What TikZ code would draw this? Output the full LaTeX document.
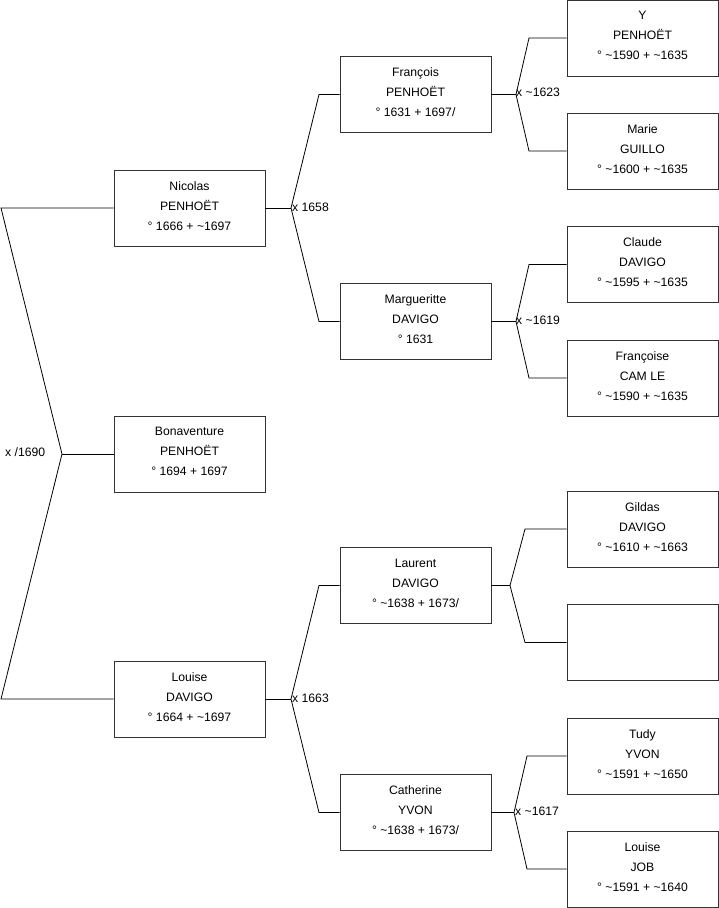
\documentclass[tikz,border=0pt]{standalone}
\usepackage{fontspec}
\setmainfont{Liberation Sans}
\newcommand{\lowstrut}{\rule[-4.5pt]{0pt}{4.5pt}}
\begin{document}
\begin{tikzpicture}[x=1pt,y=-1pt,
  person/.style={draw=black!80,line width=0.8pt,minimum width=151pt,minimum height=76pt,inner sep=0pt,align=center,font=\fontsize{12.2pt}{20pt}\selectfont},
  conn/.style={draw=black,line width=0.8pt},
  lab/.style={font=\fontsize{12.2pt}{14pt}\selectfont,inner sep=1pt}]
\useasboundingbox (0,0) rectangle (719,908);
% generation 1
\node[person] (nicolas) at (189.5,208) {Nicolas\\PENHOËT\\° 1666 + \textasciitilde1697\lowstrut};
\node[person] (bona) at (189.5,454) {Bonaventure\\PENHOËT\\° 1694 + 1697\lowstrut};
\node[person] (louise) at (189.5,699) {Louise\\DAVIGO\\° 1664 + \textasciitilde1697\lowstrut};
% generation 2
\node[person] (francois) at (415.5,94.5) {François\\PENHOËT\\° 1631 + 1697/\lowstrut};
\node[person] (marg) at (415.5,321.5) {Margueritte\\DAVIGO\\° 1631\lowstrut};
\node[person] (laurent) at (415.5,585.5) {Laurent\\DAVIGO\\° \textasciitilde1638 + 1673/\lowstrut};
\node[person] (cath) at (415.5,812.5) {Catherine\\YVON\\° \textasciitilde1638 + 1673/\lowstrut};
% generation 3
\node[person] (y) at (642.5,38) {Y\\PENHOËT\\° \textasciitilde1590 + \textasciitilde1635\lowstrut};
\node[person] (marie) at (642.5,151) {Marie\\GUILLO\\° \textasciitilde1600 + \textasciitilde1635\lowstrut};
\node[person] (claude) at (642.5,264.5) {Claude\\DAVIGO\\° \textasciitilde1595 + \textasciitilde1635\lowstrut};
\node[person] (fse) at (642.5,378) {Françoise\\CAM LE\\° \textasciitilde1590 + \textasciitilde1635\lowstrut};
\node[person] (gildas) at (642.5,529) {Gildas\\DAVIGO\\° \textasciitilde1610 + \textasciitilde1663\lowstrut};
\node[person] (empty) at (642.5,642.5) {};
\node[person] (tudy) at (642.5,756) {Tudy\\YVON\\° \textasciitilde1591 + \textasciitilde1650\lowstrut};
\node[person] (ljob) at (642.5,869) {Louise\\JOB\\° \textasciitilde1591 + \textasciitilde1640\lowstrut};
% junction coordinates
\coordinate (r1) at (1,208);
\coordinate (rj) at (62,454);
\coordinate (r2) at (1,699);
\coordinate (a) at (291,208);
\coordinate (a1) at (319,94.5);
\coordinate (a2) at (319,321.5);
\coordinate (b) at (291,699);
\coordinate (b1) at (319,585.5);
\coordinate (b2) at (319,812.5);
\coordinate (c) at (516,94.5);
\coordinate (c1) at (529,38);
\coordinate (c2) at (529,151);
\coordinate (d) at (516,321.5);
\coordinate (d1) at (529,264.5);
\coordinate (d2) at (529,378);
\coordinate (e) at (510,585.5);
\coordinate (e1) at (525,529);
\coordinate (e2) at (525,642.5);
\coordinate (f) at (514,812.5);
\coordinate (f1) at (527,756);
\coordinate (f2) at (527,869);
% connectors
\draw[conn] (nicolas.west) -- (r1) -- (rj) -- (r2) -- (louise.west);
\draw[conn] (rj) -- (bona.west);
\draw[conn] (nicolas.east) -- (a);
\draw[conn] (francois.west) -- (a1) -- (a) -- (a2) -- (marg.west);
\draw[conn] (louise.east) -- (b);
\draw[conn] (laurent.west) -- (b1) -- (b) -- (b2) -- (cath.west);
\draw[conn] (francois.east) -- (c);
\draw[conn] (y.west) -- (c1) -- (c) -- (c2) -- (marie.west);
\draw[conn] (marg.east) -- (d);
\draw[conn] (claude.west) -- (d1) -- (d) -- (d2) -- (fse.west);
\draw[conn] (laurent.east) -- (e);
\draw[conn] (gildas.west) -- (e1) -- (e) -- (e2) -- (empty.west);
\draw[conn] (cath.east) -- (f);
\draw[conn] (tudy.west) -- (f1) -- (f) -- (f2) -- (ljob.west);
% marriage labels
\node[lab,anchor=west] (m0) at (4,452) {x /1690};
\node[lab,anchor=west] (m1) at (291,207) {x 1658};
\node[lab,anchor=west] (m2) at (291,698) {x 1663};
\node[lab,anchor=west] (m3) at (515,92) {x \textasciitilde1623};
\node[lab,anchor=west] (m4) at (515,320) {x \textasciitilde1619};
\node[lab,anchor=west] (m5) at (514,811) {x \textasciitilde1617};
\end{tikzpicture}
\end{document}
